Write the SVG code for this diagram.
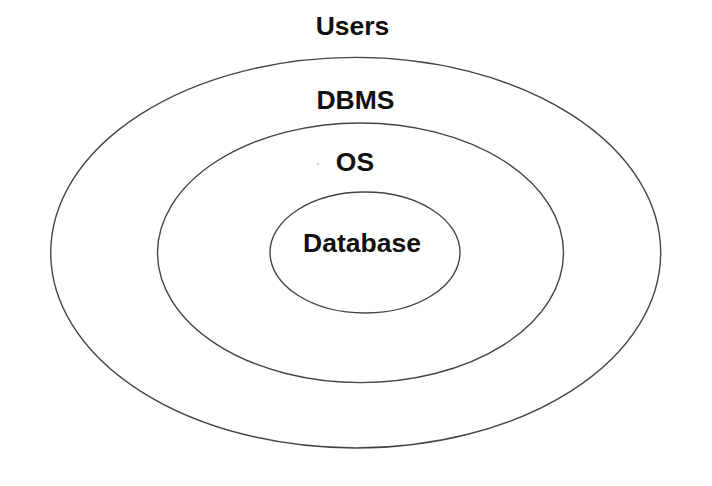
<svg xmlns="http://www.w3.org/2000/svg" width="712" height="486" viewBox="0 0 712 486">
<style>
.ring{fill:none;stroke:#444;stroke-width:1.4}
.lbl{font-family:"Liberation Sans",Arial,sans-serif;font-weight:bold;font-size:26.5px;fill:#111;text-anchor:middle}
</style>
<rect width="712" height="486" fill="#fff"/>
<g id="users">
<ellipse class="ring" cx="355.7" cy="252.7" rx="305" ry="195.3"/>
<text class="lbl" x="352.5" y="35">Users</text>
</g>
<g id="dbms">
<ellipse class="ring" cx="360.5" cy="252.8" rx="203" ry="129.8"/>
<text class="lbl" x="355.5" y="109">DBMS</text>
</g>
<g id="os">
<text class="lbl" x="355" y="171">OS</text>
<circle cx="318" cy="164" r="1.6" fill="#ddd"/>
</g>
<g id="database">
<ellipse class="ring" cx="365" cy="252.5" rx="95" ry="60.5"/>
<text class="lbl" x="362" y="252">Database</text>
</g>
<g id="connectors"/>
</svg>
